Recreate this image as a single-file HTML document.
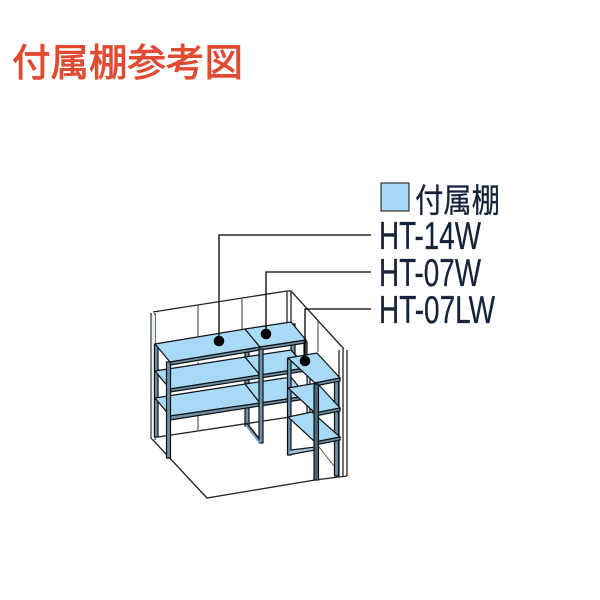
<!DOCTYPE html>
<html>
<head>
<meta charset="utf-8">
<style>
html,body{margin:0;padding:0;background:#fff;width:600px;height:600px;overflow:hidden}
svg{display:block}
.cjk{font-family:"Liberation Sans","Noto Sans CJK JP",sans-serif}
.lat{font-family:"Liberation Sans",sans-serif;font-size:39px;fill:#15233a;stroke:#15233a;stroke-width:.3}
</style>
</head>
<body>
<svg width="600" height="600" viewBox="0 0 600 600" xmlns="http://www.w3.org/2000/svg">
<text x="12" y="76" class="cjk" font-size="38" fill="#e04b32" stroke="#e04b32" stroke-width=".9" textLength="231" lengthAdjust="spacingAndGlyphs">付属棚参考図</text>

<!-- room -->
<g fill="none" stroke="#222" stroke-width="1.300">
  <path d="M153 312L287 291L291 291L344 349"/>
  <path d="M151 313V438L207 498L315 480L347 476"/>
  <path d="M155 313V440"/>
  <path d="M158 437L290 417"/>
  <path d="M287 291V327M291 291V326"/>
  <path d="M343 349V477M347 350V476M339 350V476"/>
</g>
<g fill="none" stroke="#666" stroke-width="1.300">
  <path d="M198 305V336M242 298V330M151 316V438M154 316V438"/>
  <path d="M318 321V352"/>
  <path d="M198 362V370M198 416V431"/>
  <path d="M245 359V364M245 386V392"/>
</g>
<rect x="152" y="315" width="3" height="124" fill="#e8eef2"/>

<!-- back posts main -->
<g fill="#6f90aa" stroke="#111" stroke-width="1.200">
  <rect x="154.500" y="345" width="3.500" height="92"/>
  <rect x="245" y="331" width="4" height="95"/>
  <rect x="291" y="324" width="4" height="35"/>
</g>

<!-- side diagonals -->
<g fill="none" stroke="#1f2e3c" stroke-width="2.800">
  <path d="M158 370L168 382M158 398L168 410"/>
  <path d="M245 357L260 374M245 386L260 403M246 423L261 442"/>
  <path d="M291 351L306 368"/>
</g>

<!-- shelves main -->
<g stroke="#111" stroke-width="1.200">
  <path d="M155 398L245 384L260 403L170 416Z" fill="#a8daf7"/>
  <path d="M170 416L260 403V406L170 420Z" fill="#6f90aa"/>
  <path d="M260 403L306 396V399L260 406Z" fill="#6f90aa"/>
  <path d="M245 384L291 377L306 396L260 403Z" fill="#a8daf7"/>
  <path d="M155 371L245 357L260 375L170 389Z" fill="#a8daf7"/>
  <path d="M170 389L260 375V378L170 392Z" fill="#6f90aa"/>
  <path d="M245 357L291 350L306 368L260 375Z" fill="#a8daf7"/>
  <path d="M260 375L306 368V371L260 378Z" fill="#6f90aa"/>
  <path d="M155 344L245 329L260 347L170 362Z" fill="#a8daf7"/>
  <path d="M170 362L260 347V350L170 365Z" fill="#6f90aa"/>
  <path d="M245 329L291 322L306 340L260 347Z" fill="#a8daf7"/>
  <path d="M260 347L306 340V343L260 350Z" fill="#6f90aa"/>
</g>

<!-- front posts main -->
<g fill="#6f90aa" stroke="#111" stroke-width="1.200">
  <rect x="166.500" y="362" width="4" height="96"/>
  <rect x="259" y="349" width="4" height="94"/>
  <rect x="304" y="342" width="3" height="16"/>
</g>
<path d="M246 425L260 443" fill="none" stroke="#7f9db5" stroke-width="2"/>

<!-- LW unit -->
<g fill="#6f90aa" stroke="#111" stroke-width="1.200">
  <rect x="307" y="356" width="3" height="65" fill="#c9dbe7"/>
  <rect x="334.500" y="379" width="4" height="97"/>
  <rect x="287.500" y="359" width="3.500" height="96"/>
</g>
<path d="M291 450L315 447V450L288 455" fill="#a8c4d8" stroke="#111" stroke-width="1.200"/>
<g stroke="#111" stroke-width="1.200">
  <path d="M288 417L312 412L340 437L315 442Z" fill="#a8daf7"/>
  <path d="M315 442L340 437V440L315 445Z" fill="#6f90aa"/>
  <path d="M288 388L317 383L340 408L315 413Z" fill="#a8daf7"/>
  <path d="M315 413L340 408V411L315 416Z" fill="#6f90aa"/>
  <path d="M288 358L317 353L340 378L315 383Z" fill="#a8daf7"/>
  <path d="M315 383L340 378V381L315 386Z" fill="#6f90aa"/>
</g>
<path d="M315 442L334 466" fill="none" stroke="#555" stroke-width="1"/>
<rect x="314" y="384" width="4.500" height="96" fill="#4a6679" stroke="#111" stroke-width="1.200"/>

<!-- leaders -->
<g fill="none" stroke="#000" stroke-width="1.300">
  <path d="M219 341V235H371"/>
  <path d="M266 334V272H371"/>
  <path d="M305 361V309H371"/>
</g>
<circle cx="219" cy="341" r="5.300" fill="#000"/>
<circle cx="266" cy="334" r="5.300" fill="#000"/>
<circle cx="305" cy="361" r="5.300" fill="#000"/>

<!-- legend -->
<rect x="381" y="183" width="28" height="28" fill="#a5d8f5" stroke="#333" stroke-width="1.200"/>
<text x="415" y="212" class="cjk" font-size="33" fill="#15233a" stroke="#15233a" stroke-width=".3" textLength="85" lengthAdjust="spacingAndGlyphs">付属棚</text>
<text x="379" y="249" class="lat" textLength="102" lengthAdjust="spacingAndGlyphs">HT-14W</text>
<text x="379" y="286" class="lat" textLength="102" lengthAdjust="spacingAndGlyphs">HT-07W</text>
<text x="379" y="323" class="lat" textLength="116" lengthAdjust="spacingAndGlyphs">HT-07LW</text>
</svg>
</body>
</html>
